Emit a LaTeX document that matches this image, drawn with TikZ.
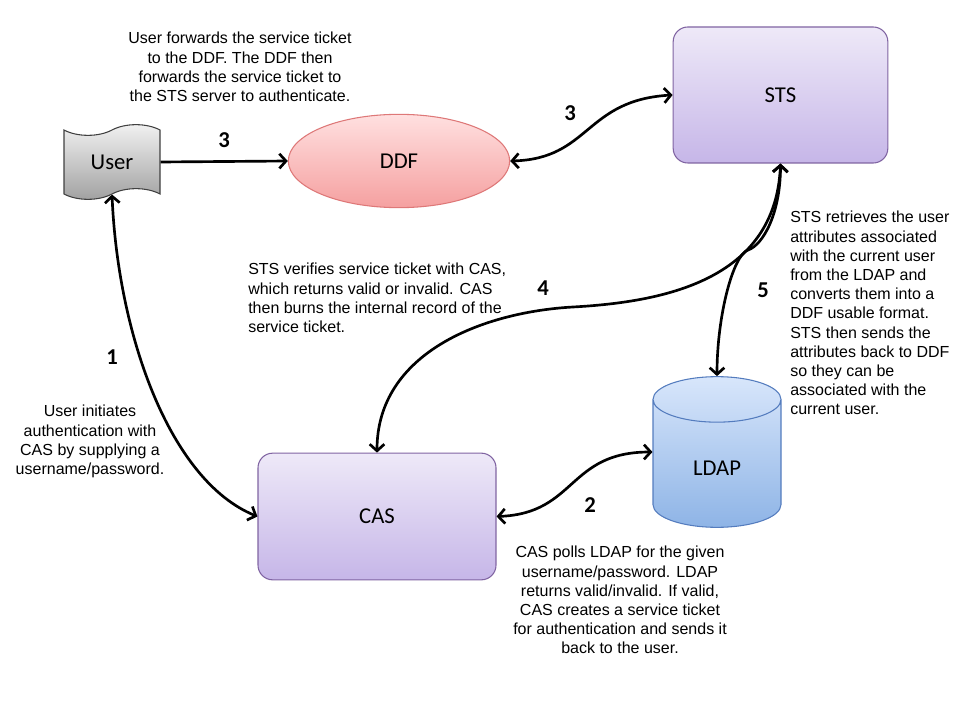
\documentclass[tikz,border=0pt]{standalone}
\usepackage{fontspec}
\setmainfont{Liberation Sans}
\newfontfamily\calfont{Carlito}
\usetikzlibrary{shapes.geometric,shapes.symbols,arrows.meta}

\definecolor{roxoTopo}{RGB}{238,233,248}
\definecolor{roxoBase}{RGB}{198,182,232}
\definecolor{roxoLinha}{RGB}{128,100,162}
\definecolor{rosaTopo}{RGB}{255,224,224}
\definecolor{rosaBase}{RGB}{245,160,160}
\definecolor{rosaLinha}{RGB}{222,120,120}
\definecolor{azulTopo}{RGB}{216,230,251}
\definecolor{azulBase}{RGB}{142,180,230}
\definecolor{azulLinha}{RGB}{84,124,190}
\definecolor{cinzaTopo}{RGB}{242,242,242}
\definecolor{cinzaBase}{RGB}{160,160,160}

\begin{document}
\begin{tikzpicture}[x=0.75pt, y=-0.75pt,
    rotulo/.style={font=\calfont\fontsize{17}{20}\selectfont},
    caixa/.style={rotulo, draw=roxoLinha, line width=0.8pt, rounded corners=11pt,
        top color=roxoTopo, bottom color=roxoBase},
    seta/.style={line width=2pt, -{Straight Barb[length=5pt,width=11pt]}},
    duplo/.style={line width=2pt, {Straight Barb[length=5pt,width=11pt]}-{Straight Barb[length=5pt,width=11pt]}},
    num/.style={font=\calfont\bfseries\fontsize{17}{20}\selectfont},
    texto/.style={font=\fontsize{12}{14.4}\selectfont, inner sep=0pt}]
    \useasboundingbox (0,0) rectangle (960,720);

    % Nos
    \node[rotulo, shape=tape, draw=black!75, line width=0.8pt, top color=cinzaTopo, bottom color=cinzaBase,
        minimum width=72pt, minimum height=56pt, tape bend height=8pt] (user) at (112,162) {User};
    \node[rotulo, ellipse, draw=rosaLinha, line width=0.8pt, top color=rosaTopo, bottom color=rosaBase,
        minimum width=166pt, minimum height=70pt] (ddf) at (399,161) {DDF};
    \node[caixa, minimum width=161pt, minimum height=102pt] (sts) at (780.5,95) {STS};
    \node[caixa, minimum width=178.5pt, minimum height=95pt] (cas) at (377,516.5) {CAS};
    \node[rotulo, cylinder, shape border rotate=90, aspect=0.8, draw=azulLinha, line width=0.8pt,
        top color=azulTopo, bottom color=azulBase, anchor=shape center,
        minimum width=96pt, minimum height=113pt] (ldap) at (717,452) {LDAP};

    % Setas
    \draw[seta] (user.east) -- (ddf.west);
    \draw[duplo] (ddf.east) .. controls +(80,-2) and +(-88,5) .. (sts.west);
    \draw[duplo] (sts.south) .. controls +(-5,117) and +(90,-5) .. (573,307)
        .. controls +(-90,5) and +(0,-100) .. (cas.north);
    \draw[duplo] (sts.south) .. controls +(0,50) and +(15,-5) .. (748,250)
        .. controls +(-15,5) and +(0,-60) .. (ldap.north);
    \draw[duplo] (user.south) .. controls +(6,140) and +(-88,-36) .. (cas.west);
    \draw[duplo] (cas.east) .. controls +(80,-3) and +(-85,0) .. (ldap.west |- ldap.shape center);

    % Numeros
    \node[num] (n3a) at (224,140) {3};
    \node[num] (n3b) at (570,113) {3};
    \node[num] (n4) at (543,288) {4};
    \node[num] (n5) at (763,290) {5};
    \node[num] (n1) at (112,357) {1};
    \node[num] (n2) at (590,505) {2};

    % Textos
    \node[texto, align=center, anchor=north] (t3) at (240,32) {User forwards the service ticket\\to the DDF. The DDF then\\forwards the service ticket to\\the STS server to authenticate.};
    \node[texto, align=left, anchor=north west] (t4) at (248,263) {STS verifies service ticket with CAS,\\which returns valid or invalid. CAS\\then burns the internal record of the\\service ticket.};
    \node[texto, align=center, anchor=north] (t1) at (90,405) {User initiates\\authentication with\\CAS by supplying a\\username/password.};
    \node[texto, align=left, anchor=north west] (t5) at (790,211) {STS retrieves the user\\attributes associated\\with the current user\\from the LDAP and\\converts them into a\\DDF usable format.\\STS then sends the\\attributes back to DDF\\so they can be\\associated with the\\current user.};
    \node[texto, align=center, anchor=north] (t2) at (620,546) {CAS polls LDAP for the given\\username/password. LDAP\\returns valid/invalid. If valid,\\CAS creates a service ticket\\for authentication and sends it\\back to the user.};
\end{tikzpicture}
\end{document}
